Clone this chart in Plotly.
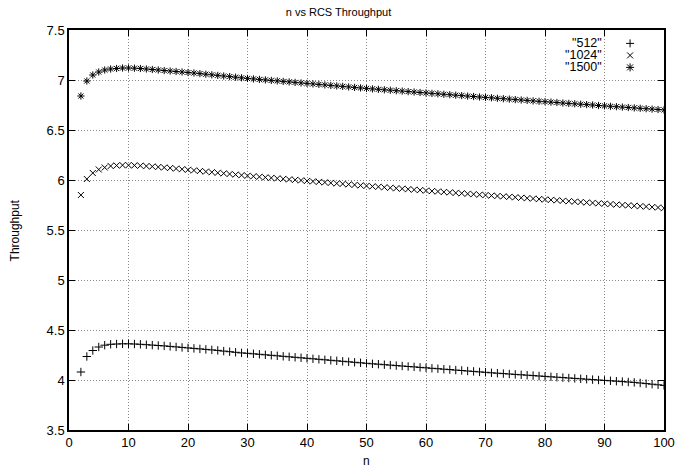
import plotly.graph_objects as go

# n from 2 to 100
n_vals = list(range(2, 101))

thr_512 = [
    4.080, 4.235, 4.295, 4.330, 4.348, 4.357, 4.360, 4.362, 4.362, 4.360,
    4.357, 4.353, 4.349, 4.345, 4.341, 4.336, 4.331, 4.326, 4.321, 4.316,
    4.311, 4.306, 4.301, 4.296, 4.289, 4.283, 4.277, 4.271, 4.267, 4.262,
    4.257, 4.252, 4.247, 4.242, 4.237, 4.232, 4.227, 4.222, 4.217, 4.212,
    4.207, 4.202, 4.197, 4.192, 4.187, 4.182, 4.177, 4.172, 4.167, 4.162,
    4.158, 4.153, 4.149, 4.144, 4.140, 4.135, 4.131, 4.126, 4.122, 4.117,
    4.113, 4.108, 4.104, 4.099, 4.095, 4.090, 4.086, 4.081, 4.077, 4.072,
    4.068, 4.064, 4.060, 4.056, 4.052, 4.048, 4.044, 4.040, 4.036, 4.032,
    4.028, 4.024, 4.020, 4.016, 4.012, 4.008, 4.004, 4.000, 3.996, 3.992,
    3.988, 3.984, 3.980, 3.976, 3.970, 3.964, 3.958, 3.952, 3.946,
]

thr_1024 = [
    5.850, 6.010, 6.070, 6.105, 6.125, 6.140, 6.145, 6.148, 6.148,
    6.146, 6.143, 6.139, 6.135, 6.130, 6.125, 6.120, 6.114, 6.108, 6.102,
    6.096, 6.090, 6.084, 6.078, 6.072, 6.066, 6.060, 6.054, 6.048, 6.042,
    6.037, 6.032, 6.026, 6.021, 6.016, 6.011, 6.006, 6.001, 5.996, 5.991,
    5.986, 5.981, 5.976, 5.971, 5.966, 5.961, 5.956, 5.951, 5.946, 5.941,
    5.936, 5.932, 5.927, 5.922, 5.917, 5.913, 5.908, 5.903, 5.899, 5.894,
    5.889, 5.885, 5.880, 5.876, 5.871, 5.867, 5.862, 5.858, 5.853, 5.849,
    5.844, 5.840, 5.836, 5.831, 5.827, 5.822, 5.818, 5.814, 5.809, 5.805,
    5.801, 5.797, 5.792, 5.788, 5.784, 5.780, 5.775, 5.771, 5.767, 5.763,
    5.759, 5.754, 5.750, 5.746, 5.742, 5.738, 5.734, 5.729, 5.725, 5.718,
]

thr_1500 = [
    6.840, 6.990, 7.050, 7.080, 7.100, 7.110, 7.115, 7.120, 7.120,
    7.118, 7.115, 7.110, 7.105, 7.100, 7.095, 7.090, 7.085, 7.080, 7.075,
    7.070, 7.064, 7.058, 7.052, 7.046, 7.040, 7.034, 7.028, 7.022, 7.016,
    7.011, 7.006, 7.001, 6.996, 6.991, 6.986, 6.981, 6.976, 6.971, 6.966,
    6.961, 6.956, 6.951, 6.946, 6.941, 6.936, 6.931, 6.926, 6.921, 6.916,
    6.911, 6.907, 6.902, 6.898, 6.893, 6.889, 6.884, 6.880, 6.875, 6.871,
    6.866, 6.862, 6.857, 6.853, 6.848, 6.844, 6.839, 6.835, 6.830, 6.826,
    6.822, 6.817, 6.813, 6.809, 6.804, 6.800, 6.796, 6.791, 6.787, 6.783,
    6.779, 6.775, 6.770, 6.766, 6.762, 6.758, 6.754, 6.750, 6.745, 6.741,
    6.737, 6.733, 6.729, 6.725, 6.721, 6.717, 6.713, 6.709, 6.705, 6.701,
]

series_names = ['"512"', '"1024"', '"1500"']
series_vals = [thr_512, thr_1024, thr_1500]
symbols = ["cross-thin-open", "x-thin-open", "asterisk-open"]

fig = go.Figure()
for name, vals, sym in zip(series_names, series_vals, symbols):
    fig.add_trace(go.Scatter(
        x=n_vals[:len(vals)], y=vals, mode="markers", name=name,
        showlegend=False,
        marker=dict(symbol=sym, size=6, color="black",
                    line=dict(color="black", width=1)),
    ))

axis_style = dict(
    showline=True, linecolor="black", linewidth=1.5, mirror="allticks",
    ticks="inside", ticklen=6, tickcolor="black",
    showgrid=True, gridcolor="#888", griddash="1px,2px", gridwidth=1,
    zeroline=False, tickfont=dict(size=13, color="black"), automargin=False,
)
fig.update_xaxes(range=[0, 100], dtick=10, **axis_style)
fig.update_yaxes(range=[3.5, 7.5], dtick=0.5, **axis_style)

# axis titles
fig.add_annotation(text="n", x=0.5, y=-0.078, xref="paper", yref="paper",
                   showarrow=False, font=dict(size=12), yanchor="middle")
fig.add_annotation(text="Throughput", x=-0.09, y=0.5, xref="paper", yref="paper",
                   showarrow=False, font=dict(size=12), textangle=-90,
                   xanchor="center", yanchor="middle")

# gnuplot style key: label right-aligned, glyph to the right of it
key_y = [0.9665, 0.9365, 0.9065]
for name, ky, i in zip(series_names, key_y, range(3)):
    fig.add_annotation(text=name, x=0.8975, y=ky, xref="paper", yref="paper",
                       showarrow=False, font=dict(size=12.5), xanchor="right",
                       yanchor="middle", borderpad=0)
    segs = []
    if i in (0, 2):
        segs += [(-4, 0, 4, 0), (0, -4, 0, 4)]
    if i in (1, 2):
        segs += [(-3, -3, 3, 3), (-3, 3, 3, -3)]
    for x0, y0, x1, y1 in segs:
        fig.add_shape(type="line", xref="paper", yref="paper",
                      xsizemode="pixel", ysizemode="pixel",
                      xanchor=0.943, yanchor=ky,
                      x0=x0, x1=x1, y0=y0, y1=y1,
                      line=dict(color="black", width=1))

fig.update_layout(
    width=677, height=472,
    margin=dict(l=69, r=13, t=30, b=42),
    paper_bgcolor="white", plot_bgcolor="white",
    font=dict(family="Liberation Sans, Arial, sans-serif", color="black"),
    title=dict(text="n vs RCS Throughput", x=0.5, xanchor="center",
               y=0.9746, yanchor="middle", font=dict(size=11)),
    showlegend=False,
)

# drop the default body margin so the figure sits at the window's corner
fig.write_html("out.html", config={"displayModeBar": False},
               post_script="document.body.style.margin='0';"
                           "document.body.style.overflow='hidden';")
